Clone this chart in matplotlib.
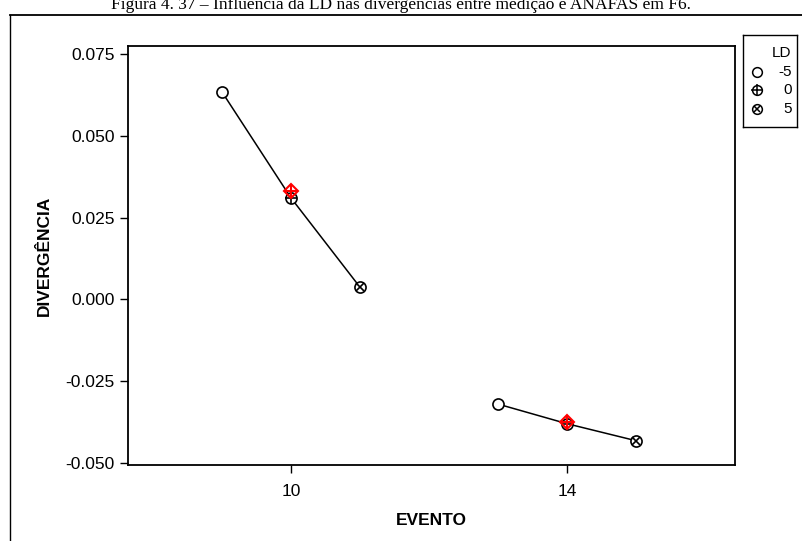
import matplotlib
matplotlib.use("Agg")
from matplotlib import pyplot as plt
from matplotlib.lines import Line2D
from matplotlib import font_manager
import numpy as np

# data
eventos = [10, 14]
ld_levels = [-5, 0, 5]
x_offset = [-1.0, 0.0, 1.0]
div_ev10 = [0.0634, 0.0310, 0.0037]
div_ev14 = [-0.0320, -0.0380, -0.0432]
red_ev = [10, 14]
red_val = [0.0330, -0.0375]

names = set(f.name for f in font_manager.fontManager.ttflist)
if 'DejaVu Sans Condensed' in names:
    plt.rcParams['font.family'] = ['DejaVu Sans Condensed', 'DejaVu Sans']
else:
    plt.rcParams['font.family'] = ['Liberation Sans', 'DejaVu Sans']
    plt.rcParams['font.stretch'] = 'condensed'

fig = plt.figure(figsize=(8.02, 5.41), dpi=100)
ax = fig.add_axes([128/802, 1-465/541, (735-128)/802, (465-46)/541])

def draw_markers(xs, ys, zorder=3):
    for i, (x, y) in enumerate(zip(xs, ys)):
        ax.plot(x, y, marker='o', ms=8, mfc='white', mec='black', mew=1.2, ls='none', zorder=zorder)
        if i == 1:
            ax.plot(x, y, marker='+', ms=9, mec='black', mew=1.2, ls='none', zorder=zorder+1)
        elif i == 2:
            ax.plot(x, y, marker='x', ms=5.5, mec='black', mew=1.2, ls='none', zorder=zorder+1)

for ev, vals in zip(eventos, [div_ev10, div_ev14]):
    xs = [ev + o for o in x_offset]
    ax.plot(xs, vals, color='black', lw=1.1, zorder=2)
    draw_markers(xs, vals)

for x, y in zip(red_ev, red_val):
    ax.plot(x, y, marker='D', ms=7, mfc='none', mec='red', mew=1.5, ls='none', zorder=6)
    ax.plot(x, y, marker='+', ms=8, mec='red', mew=1.5, ls='none', zorder=7)

ax.set_xlim(7.64, 16.43)
ax.set_ylim(-0.0506, 0.0774)
ax.set_xticks(eventos)
ax.set_xticklabels([str(e) for e in eventos])
ax.set_yticks([0.075, 0.050, 0.025, 0.000, -0.025, -0.050])
ax.set_yticklabels(['0.075', '0.050', '0.025', '0.000', '-0.025', '-0.050'])
ax.tick_params(labelsize=12.5, length=6, width=1, direction='out')
ax.tick_params(axis='x', pad=8)
for s in ax.spines.values():
    s.set_linewidth(1.3)
ax.set_xlabel('EVENTO', fontsize=12.5, fontweight='bold', labelpad=10)
ax.set_ylabel('DIVERGÊNCIA', fontsize=12.5, fontweight='bold', labelpad=10)

# legend box
lax = fig.add_axes([743/802, 1-127/541, (797-743)/802, (127-35)/541])
lax.set_xlim(0, 1)
lax.set_ylim(0, 1)
lax.set_xticks([])
lax.set_yticks([])
for s in lax.spines.values():
    s.set_linewidth(1)
lax.text(0.72, 0.80, 'LD', ha='center', va='center', fontsize=11)
ly = [0.60, 0.40, 0.20]
for i, (lab, y) in enumerate(zip(ld_levels, ly)):
    lax.plot(0.25, y, marker='o', ms=7, mfc='white', mec='black', mew=1.1, ls='none')
    if i == 1:
        lax.plot(0.25, y, marker='+', ms=8, mec='black', mew=1.1, ls='none')
    elif i == 2:
        lax.plot(0.25, y, marker='x', ms=5, mec='black', mew=1.1, ls='none')
    lax.text(0.90, y, str(lab), ha='right', va='center', fontsize=11)

# page frame lines and cut title
fig.add_artist(Line2D([10/802, 1], [1-15/541, 1-15/541], color='black', lw=1.3))
fig.add_artist(Line2D([10/802, 10/802], [0, 1-15/541], color='black', lw=1.0))
fig.text(0.5, 1-5/541, 'Figura 4. 37 \u2013 Influência da LD nas divergências entre medição e ANAFAS em F6.',
         ha='center', va='center', fontsize=12.5, family=['Liberation Serif', 'DejaVu Serif'])

fig.savefig('out.png', dpi=100)
